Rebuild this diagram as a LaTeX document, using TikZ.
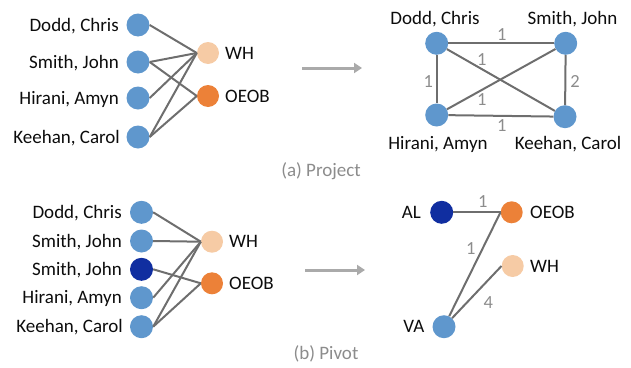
\documentclass[tikz,border=0pt]{standalone}
\usepackage{fontspec}
\setmainfont{Carlito}
\usetikzlibrary{arrows.meta}

\definecolor{person}{RGB}{95,151,205}
\definecolor{persondark}{RGB}{16,46,160}
\definecolor{sitelight}{RGB}{246,203,165}
\definecolor{siteorange}{RGB}{236,129,56}
\definecolor{edgegray}{RGB}{110,110,110}
\definecolor{notegray}{RGB}{140,140,140}
\definecolor{arrowgray}{RGB}{170,170,170}
\definecolor{inktext}{RGB}{12,12,12}

\tikzset{
  dot/.style={circle, minimum size=23pt, inner sep=0pt, draw=none},
  persondot/.style={dot, fill=person},
  darkdot/.style={dot, fill=persondark},
  whdot/.style={dot, minimum size=22pt, fill=sitelight},
  oeobdot/.style={dot, minimum size=22pt, fill=siteorange},
  nametext/.style={font=\fontsize{19}{22}\selectfont, text=inktext, inner sep=0pt, text height=12.2pt, text depth=0pt},
  weighttext/.style={font=\fontsize{18.5}{21}\selectfont, text=notegray, inner sep=0pt, text height=11.6pt, text depth=0pt},
  captiontext/.style={font=\fontsize{19}{22}\selectfont, text=notegray, inner sep=0pt, text height=12.2pt, text depth=0pt},
  link/.style={draw=edgegray, line width=2pt},
  flow/.style={draw=arrowgray, line width=3pt, -{Triangle[length=8pt,width=10pt]}},
}

\begin{document}
\begin{tikzpicture}[x=1pt, y=-1pt]
\useasboundingbox (0,0) rectangle (631,367);

% ---------- (a) bipartite graph ----------
\node[persondot] (a1) at (138,25) {};
\node[persondot] (a2) at (138,62) {};
\node[persondot] (a3) at (138,98) {};
\node[persondot] (a4) at (138,137) {};
\node[whdot]   (aw) at (208,53) {};
\node[oeobdot] (ao) at (208,96) {};

\node[nametext, anchor=east] (a1t) at (119,25) {Dodd, Chris};
\node[nametext, anchor=east] (a2t) at (119,62) {Smith, John};
\node[nametext, anchor=east] (a3t) at (119,98) {Hirani, Amyn};
\node[nametext, anchor=east] (a4t) at (120,137) {Keehan, Carol};
\node[nametext, anchor=west] (awt) at (225,53) {WH};
\node[nametext, anchor=west] (aot) at (225,96) {OEOB};

\draw[link] (a1.east) -- (aw.west);
\draw[link] (a2.east) -- (aw.west);
\draw[link] (a2.east) -- (ao.west);
\draw[link] (a3.east) -- (aw.west);
\draw[link] (a4.east) -- (aw.west);
\draw[link] (a4.east) -- (ao.west);

% arrow to the projection
\coordinate (pa1) at (302,68);
\coordinate (pa2) at (362,68);
\draw[flow] (pa1) -- (pa2);

% ---------- (a) projected graph ----------
\node[persondot] (p1) at (436.7,43.3) {};
\node[persondot] (p2) at (565.7,43.3) {};
\node[persondot] (p3) at (436.7,115) {};
\node[persondot] (p4) at (565,116.7) {};

\draw[link] (p1) -- (p2);
\draw[link] (p1) -- (p3);
\draw[link] (p1) -- (p4);
\draw[link] (p2) -- (p3);
\draw[link] (p2) -- (p4);
\draw[link] (p3) -- (p4);

\node[nametext] (p1t) at (435,18) {Dodd, Chris};
\node[nametext] (p2t) at (572.5,18) {Smith, John};
\node[nametext] (p3t) at (438,143) {Hirani, Amyn};
\node[nametext] (p4t) at (568,143) {Keehan, Carol};

\node[weighttext] (w12) at (501.7,35) {1};
\node[weighttext] (w14) at (481.7,60) {1};
\node[weighttext] (w13) at (428.3,81.7) {1};
\node[weighttext] (w24) at (575,81.7) {2};
\node[weighttext] (w23) at (481.7,100) {1};
\node[weighttext] (w34) at (501.7,126) {1};

\node[captiontext] (capa) at (321,170) {(a) Project};

% ---------- (b) bipartite graph ----------
\node[persondot] (b1) at (141.5,212.3) {};
\node[persondot] (b2) at (141.5,241) {};
\node[darkdot]   (b3) at (141.5,269.3) {};
\node[persondot] (b4) at (141.5,297.7) {};
\node[persondot] (b5) at (141.5,326.7) {};
\node[whdot]   (bw) at (212,241.7) {};
\node[oeobdot] (bo) at (212,283.3) {};

\node[nametext, anchor=east] (b1t) at (122,212.3) {Dodd, Chris};
\node[nametext, anchor=east] (b2t) at (122,241) {Smith, John};
\node[nametext, anchor=east] (b3t) at (122,269.3) {Smith, John};
\node[nametext, anchor=east] (b4t) at (122,297.7) {Hirani, Amyn};
\node[nametext, anchor=east] (b5t) at (123,326.7) {Keehan, Carol};
\node[nametext, anchor=west] (bwt) at (229,241.7) {WH};
\node[nametext, anchor=west] (bot) at (229,283.3) {OEOB};

\draw[link] (b1.east) -- (bw.west);
\draw[link] (b2.east) -- (bw.west);
\draw[link] (b3.east) -- (bo.west);
\draw[link] (b4.east) -- (bw.west);
\draw[link] (b5.east) -- (bw.west);
\draw[link] (b5.east) -- (bo.west);

% arrow to the pivot
\coordinate (pb1) at (305,270);
\coordinate (pb2) at (365,270);
\draw[flow] (pb1) -- (pb2);

% ---------- (b) pivoted graph ----------
\node[darkdot]   (al) at (441.7,212.3) {};
\node[oeobdot]   (qo) at (511.7,212.3) {};
\node[whdot]     (qw) at (512.7,266) {};
\node[persondot] (va) at (444,326.7) {};

\draw[link] (al) -- (qo.west);
\draw[link] (va) -- (qo.west);
\draw[link] (va) -- (qw.west);

\node[nametext, anchor=east] (alt) at (421,212.3) {AL};
\node[nametext, anchor=west] (qot) at (530,212.3) {OEOB};
\node[nametext, anchor=west] (qwt) at (530,266) {WH};
\node[nametext, anchor=east] (vat) at (424.5,326.7) {VA};

\node[weighttext] (wal) at (482.7,201.7) {1};
\node[weighttext] (wvo) at (470.7,248.3) {1};
\node[weighttext] (wvw) at (488.3,302.7) {4};

\node[captiontext] (capb) at (326,353) {(b) Pivot};
\end{tikzpicture}
\end{document}
